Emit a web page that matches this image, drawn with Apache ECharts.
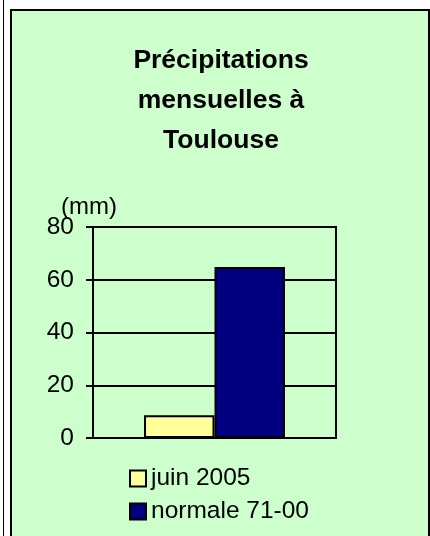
<!DOCTYPE html>
<html>
<head>
<meta charset="utf-8">
<script src="https://cdn.jsdelivr.net/npm/echarts@6/dist/echarts.min.js"></script>
<style>
  html, body { margin: 0; padding: 0; background: #fff; }
  #frame { position: absolute; left: 3px; top: 0; width: 1px; height: 536px; background: #000; }
  #box { position: absolute; left: 10px; top: 9px; width: 416px; height: 540px;
         border: 2px solid #000; background: #CCFFCC; }
  #chart { position: absolute; left: 0; top: 0; width: 430px; height: 536px; }
</style>
</head>
<body>
<div id="frame"></div>
<div id="box"></div>
<div id="chart"></div>
<script>
const categories = ['']
const juin2005 = [8.6]
const normale = [64.8]
const seriesNames = ['juin 2005', 'normale 71-00']
const titleText = 'Précipitations\nmensuelles à\nToulouse'
const unitText = '(mm)'

const font = 'Arial, "Liberation Sans", sans-serif'

const chart = echarts.init(document.getElementById('chart'))

const option = {
  backgroundColor: 'transparent',
  animation: false,
  title: {
    text: titleText,
    left: 216,
    top: 36,
    textAlign: 'center',
    textStyle: {
      fontFamily: font,
      fontSize: 26.5,
      fontWeight: 'bold',
      lineHeight: 40,
      color: '#000'
    }
  },
  // unite de l'axe, posee a la main pour qu'elle chevauche le "80"
  graphic: [
    {
      type: 'text',
      left: 61,
      top: 195,
      z: 10,
      style: { text: unitText, font: '24px ' + font, fill: '#000' }
    }
  ],
  legend: {
    orient: 'vertical',
    left: 124,
    top: 461,
    itemWidth: 16,
    itemHeight: 16,
    itemGap: 8,
    icon: 'rect',
    data: seriesNames,
    textStyle: {
      fontFamily: font,
      fontSize: 24.5,
      lineHeight: 24,
      color: '#000'
    }
  },
  grid: {
    left: 93,
    right: 94,
    top: 227,
    bottom: 98,
    show: true,
    borderColor: '#000',
    borderWidth: 2,
    backgroundColor: 'transparent'
  },
  xAxis: {
    type: 'category',
    data: categories,
    axisLine: { lineStyle: { color: '#000', width: 2 } },
    axisTick: { show: false },
    axisLabel: { show: false }
  },
  yAxis: {
    type: 'value',
    min: 0,
    max: 80,
    interval: 20,
    axisLine: { show: true, lineStyle: { color: '#000', width: 2 } },
    axisTick: { show: true, inside: false, length: 7, lineStyle: { color: '#000', width: 2 } },
    axisLabel: { fontFamily: font, fontSize: 24.5, color: '#000', margin: 19 },
    splitLine: { lineStyle: { color: '#000', width: 2 } }
  },
  series: [
    {
      name: seriesNames[0],
      type: 'bar',
      data: juin2005,
      barGap: 0,
      barCategoryGap: '42%',
      itemStyle: { color: '#FFFF99', borderColor: '#000', borderWidth: 2 }
    },
    {
      name: seriesNames[1],
      type: 'bar',
      data: normale,
      itemStyle: { color: '#000080', borderColor: '#000', borderWidth: 2 }
    }
  ]
}

chart.setOption(option)
</script>
</body>
</html>
